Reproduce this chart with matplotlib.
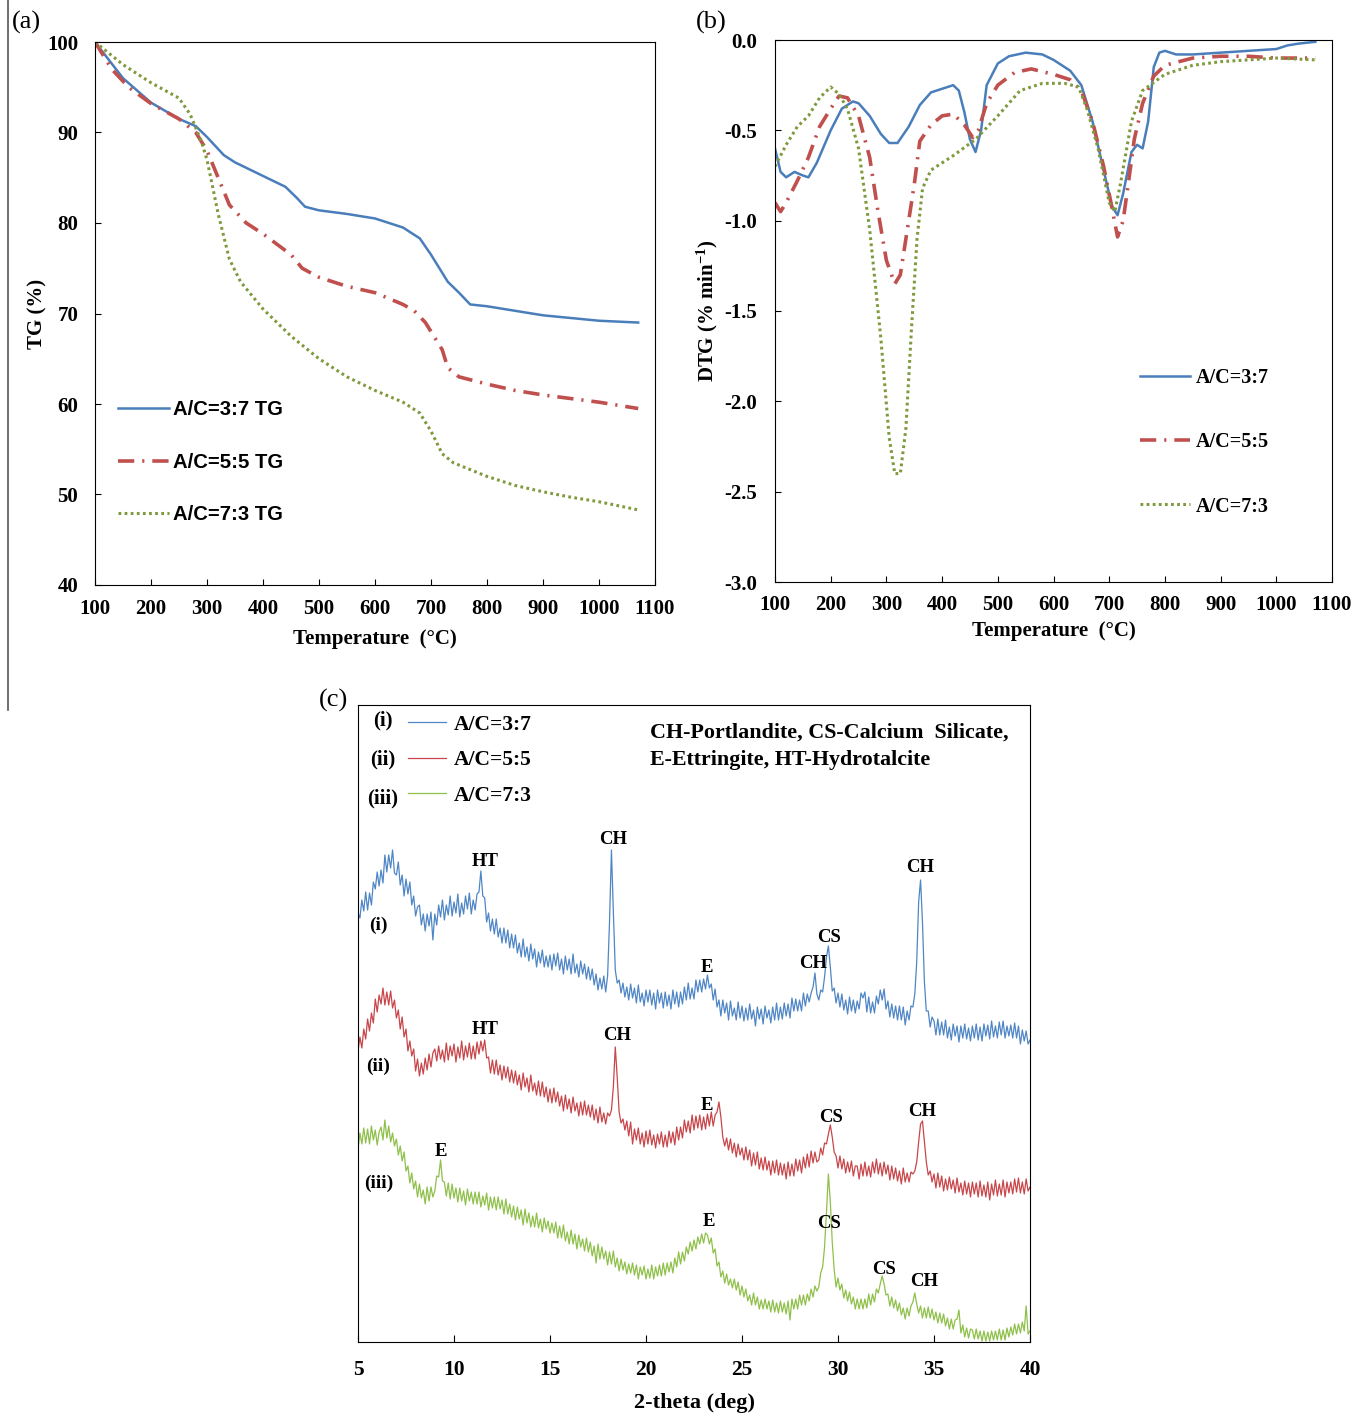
import numpy as np
import matplotlib
matplotlib.use("Agg")
import matplotlib.pyplot as plt
from matplotlib.lines import Line2D

plt.rcParams['font.family'] = ['Liberation Serif', 'DejaVu Serif']
plt.rcParams['font.weight'] = 'bold'
plt.rcParams['axes.labelweight'] = 'bold'
plt.rcParams['mathtext.fontset'] = 'custom'
plt.rcParams['mathtext.rm'] = 'Liberation Serif:bold'
plt.rcParams['mathtext.default'] = 'rm'

# ---- (a) TG data ----
tg_blue_t = [100, 150, 200, 250, 280, 300, 330, 350, 400, 440, 460, 475, 500, 550, 600, 650,
             680, 700, 720, 730, 750, 770, 800, 850, 900, 950, 1000, 1070]
tg_blue = [100, 96, 93.3, 91.5, 90.7, 89.5, 87.5, 86.7, 85.2, 84, 82.8, 81.8, 81.4, 81, 80.5, 79.5,
           78.3, 76.5, 74.5, 73.5, 72.3, 71, 70.8, 70.3, 69.8, 69.5, 69.2, 69.0]
tg_red_t = [100, 130, 160, 200, 250, 280, 300, 320, 340, 370, 400, 450, 470, 500, 550, 600, 650,
            670, 690, 700, 720, 730, 750, 800, 850, 900, 950, 1000, 1070]
tg_red = [100, 97, 95, 93.2, 91.5, 90, 88, 85, 82, 80, 78.8, 76.5, 75, 74, 73, 72.3, 71,
          70.3, 69, 68, 66, 64, 63, 62.2, 61.5, 61, 60.6, 60.2, 59.5]
tg_green_t = [100, 150, 200, 250, 270, 290, 300, 320, 340, 360, 400, 450, 500, 550, 600, 650,
              680, 700, 720, 740, 800, 850, 900, 950, 1000, 1070]
tg_green = [100, 97.5, 95.5, 93.8, 92, 89, 87, 81, 76, 73.5, 70.5, 67.5, 65, 63, 61.5, 60.2,
            59, 57, 54.5, 53.5, 52, 51, 50.3, 49.7, 49.2, 48.3]

# ---- (b) DTG data ----
dtg_blue_t = [100, 110, 120, 135, 150, 160, 175, 200, 220, 240, 250, 270, 290, 305, 320, 340, 360,
              380, 400, 420, 430, 440, 450, 460, 470, 480, 500, 520, 550, 580, 600, 630, 650, 670,
              690, 705, 715, 725, 740, 750, 760, 770, 780, 790, 800, 820, 850, 900, 950, 1000,
              1020, 1040, 1070]
dtg_blue = [-0.6, -0.73, -0.76, -0.73, -0.75, -0.76, -0.68, -0.5, -0.38, -0.34, -0.35, -0.42, -0.52,
            -0.57, -0.57, -0.48, -0.36, -0.29, -0.27, -0.25, -0.28, -0.4, -0.55, -0.62, -0.5, -0.25,
            -0.13, -0.09, -0.07, -0.08, -0.11, -0.17, -0.25, -0.45, -0.72, -0.92, -0.97, -0.85,
            -0.62, -0.58, -0.6, -0.45, -0.15, -0.07, -0.06, -0.08, -0.08, -0.07, -0.06, -0.05,
            -0.03, -0.02, -0.01]
dtg_red_t = [100, 110, 120, 140, 160, 180, 200, 215, 230, 250, 270, 285, 300, 315, 325, 340, 350,
             360, 380, 400, 420, 440, 455, 465, 480, 500, 530, 560, 600, 630, 650, 670, 690, 705,
             715, 725, 735, 745, 760, 780, 800, 850, 900, 950, 1000, 1070]
dtg_red = [-0.9, -0.95, -0.9, -0.78, -0.65, -0.48, -0.38, -0.31, -0.32, -0.42, -0.65, -0.95, -1.22,
           -1.35, -1.3, -1.0, -0.8, -0.56, -0.47, -0.42, -0.41, -0.47, -0.54, -0.5, -0.35, -0.25,
           -0.18, -0.16, -0.19, -0.22, -0.28, -0.45, -0.7, -0.93, -1.09, -1.0, -0.78, -0.55, -0.35,
           -0.2, -0.14, -0.1, -0.09, -0.09, -0.1, -0.1]
dtg_green_t = [100, 120, 140, 160, 180, 200, 215, 230, 250, 270, 290, 305, 315, 325, 335, 345, 355,
               365, 380, 420, 460, 500, 540, 580, 620, 645, 660, 680, 700, 710, 720, 740, 760, 800,
               850, 900, 950, 1000, 1070]
dtg_green = [-0.7, -0.58, -0.48, -0.42, -0.32, -0.26, -0.3, -0.38, -0.6, -1.05, -1.65, -2.2, -2.4,
             -2.4, -2.15, -1.6, -1.1, -0.82, -0.72, -0.64, -0.55, -0.42, -0.28, -0.24, -0.24, -0.26,
             -0.38, -0.6, -0.9, -0.95, -0.8, -0.45, -0.28, -0.19, -0.14, -0.12, -0.11, -0.1, -0.11]

# ---- (c) XRD data, 2-theta 5..40 step 0.1, stacked intensity (a.u.) ----
two_theta = np.linspace(5, 40, 351)
xrd_37 = [429, 424, 442, 431, 450, 432, 449, 437, 460, 453, 470, 456, 472, 459, 487, 470, 487, 474, 492, 469,
          467, 480, 457, 467, 446, 463, 448, 460, 437, 446, 426, 435, 437, 417, 428, 411, 428, 416, 430, 402,
          428, 417, 437, 425, 442, 422, 437, 427, 446, 426, 440, 429, 448, 425, 439, 428, 446, 433, 449, 428,
          442, 432, 448, 450, 471, 446, 444, 420, 429, 411, 423, 408, 423, 405, 414, 399, 414, 399, 412, 394,
          408, 394, 407, 389, 399, 385, 403, 385, 395, 381, 398, 383, 393, 375, 390, 379, 392, 375, 386, 375,
          387, 372, 388, 376, 389, 372, 383, 368, 386, 372, 383, 368, 388, 369, 378, 365, 381, 368, 378, 363,
          375, 362, 373, 357, 368, 352, 364, 353, 366, 350, 366, 420, 492, 430, 372, 359, 362, 349, 359, 345,
          355, 342, 358, 344, 354, 339, 357, 340, 349, 336, 352, 340, 352, 337, 349, 333, 352, 339, 349, 334,
          350, 336, 347, 333, 352, 338, 350, 335, 350, 338, 355, 342, 359, 343, 354, 343, 362, 350, 362, 350,
          363, 353, 367, 354, 358, 342, 353, 335, 342, 326, 342, 329, 339, 322, 341, 326, 334, 322, 340, 324,
          336, 321, 334, 322, 338, 323, 332, 316, 335, 323, 333, 318, 336, 324, 332, 319, 335, 322, 339, 322,
          335, 323, 339, 326, 338, 324, 344, 331, 343, 331, 342, 331, 349, 336, 348, 340, 349, 355, 369, 348,
          342, 352, 350, 365, 385, 396, 375, 351, 354, 339, 349, 335, 348, 332, 342, 328, 345, 331, 342, 329,
          341, 333, 349, 344, 350, 330, 345, 329, 340, 329, 346, 338, 352, 342, 353, 333, 341, 325, 338, 324,
          336, 322, 336, 322, 335, 317, 331, 322, 336, 335, 348, 380, 440, 462, 420, 360, 331, 331, 315, 325,
          321, 307, 323, 307, 320, 307, 322, 304, 315, 302, 318, 306, 316, 300, 316, 304, 318, 303, 314, 301,
          316, 304, 318, 302, 315, 301, 318, 306, 317, 303, 321, 305, 316, 304, 320, 307, 321, 304, 316, 306,
          317, 304, 319, 304, 316, 298, 312, 301, 311, 298, 302]
xrd_55 = [291, 305, 294, 313, 303, 323, 311, 329, 319, 343, 330, 347, 338, 354, 337, 350, 337, 351, 334, 342,
          324, 332, 313, 325, 305, 313, 291, 301, 286, 293, 271, 283, 266, 279, 268, 284, 272, 288, 275, 289,
          293, 281, 296, 283, 292, 280, 299, 282, 296, 286, 298, 280, 295, 284, 301, 282, 296, 285, 299, 283,
          296, 283, 300, 288, 301, 291, 302, 284, 285, 269, 282, 268, 282, 267, 277, 262, 276, 264, 275, 260,
          272, 259, 271, 257, 267, 252, 269, 255, 264, 250, 267, 251, 259, 247, 261, 246, 260, 245, 255, 240,
          253, 239, 254, 240, 250, 236, 246, 231, 247, 233, 243, 229, 245, 231, 239, 226, 240, 227, 241, 227,
          237, 225, 237, 222, 233, 219, 235, 220, 229, 218, 229, 226, 232, 255, 295, 265, 230, 219, 223, 212,
          221, 206, 220, 198, 213, 202, 214, 198, 209, 195, 211, 198, 212, 197, 207, 194, 208, 198, 210, 195,
          207, 195, 211, 199, 210, 197, 215, 202, 215, 204, 222, 210, 221, 209, 227, 212, 226, 214, 227, 212,
          225, 213, 228, 216, 230, 216, 227, 230, 240, 225, 205, 196, 204, 192, 203, 189, 199, 185, 198, 187,
          194, 182, 195, 182, 192, 176, 189, 177, 190, 173, 184, 172, 185, 172, 181, 167, 181, 169, 182, 167,
          179, 167, 178, 163, 180, 166, 178, 166, 183, 171, 182, 169, 185, 174, 188, 175, 191, 179, 190, 180,
          182, 194, 187, 199, 198, 208, 217, 205, 190, 186, 174, 186, 173, 183, 169, 180, 170, 181, 166, 176,
          176, 163, 178, 166, 180, 166, 176, 165, 180, 169, 183, 168, 179, 166, 180, 168, 177, 162, 176, 163,
          174, 161, 171, 158, 174, 160, 169, 160, 170, 168, 171, 180, 200, 218, 221, 200, 180, 167, 171, 160,
          168, 154, 169, 155, 166, 151, 163, 152, 165, 153, 162, 149, 164, 150, 159, 147, 161, 148, 159, 145,
          160, 148, 159, 145, 161, 146, 157, 145, 160, 142, 158, 147, 162, 146, 158, 147, 162, 145, 160, 149,
          160, 148, 163, 150, 164, 149, 160, 148, 163, 151, 155]
xrd_73 = [193, 209, 198, 214, 199, 213, 198, 216, 202, 212, 197, 210, 215, 202, 222, 204, 216, 200, 209, 196,
          203, 187, 196, 181, 190, 171, 176, 159, 169, 153, 161, 145, 158, 144, 152, 138, 155, 141, 155, 145,
          151, 166, 165, 182, 161, 160, 146, 159, 143, 158, 144, 154, 140, 154, 141, 151, 137, 153, 141, 150,
          138, 150, 138, 150, 135, 146, 137, 149, 132, 145, 134, 145, 132, 145, 133, 142, 128, 143, 128, 138,
          125, 136, 122, 135, 123, 132, 117, 133, 119, 129, 115, 126, 115, 129, 114, 123, 110, 124, 113, 121,
          109, 119, 109, 120, 104, 116, 104, 117, 101, 110, 98, 112, 98, 108, 93, 107, 95, 103, 91, 104,
          90, 100, 86, 96, 79, 98, 83, 95, 83, 91, 77, 90, 78, 91, 75, 84, 71, 83, 72, 80,
          68, 78, 69, 79, 67, 77, 63, 75, 67, 76, 63, 73, 64, 77, 63, 75, 66, 77, 66, 79,
          67, 79, 70, 80, 69, 84, 75, 90, 78, 90, 81, 95, 88, 100, 91, 102, 93, 105, 98, 108,
          99, 109, 107, 98, 104, 89, 93, 76, 80, 65, 71, 59, 68, 57, 63, 54, 63, 52, 60, 47,
          56, 45, 53, 41, 47, 37, 49, 37, 45, 33, 42, 33, 43, 33, 41, 30, 42, 30, 39, 29,
          41, 30, 39, 28, 41, 22, 43, 33, 43, 33, 47, 37, 47, 37, 48, 41, 53, 45, 56, 51,
          55, 69, 75, 95, 130, 168, 140, 100, 73, 55, 64, 52, 58, 44, 52, 41, 50, 38, 45, 33,
          43, 33, 43, 33, 43, 34, 48, 37, 48, 40, 53, 49, 58, 66, 58, 47, 48, 36, 45, 34,
          42, 31, 39, 27, 34, 23, 34, 26, 36, 40, 49, 38, 29, 36, 24, 34, 24, 35, 24, 33,
          22, 30, 19, 29, 19, 28, 16, 24, 13, 23, 13, 22, 23, 32, 9, 17, 5, 14, 4, 13,
          12, 3, 13, 3, 11, 1, 11, 1, 10, 1, 11, 2, 11, 2, 13, 2, 12, 2, 14, 5,
          15, 7, 18, 8, 18, 9, 20, 11, 36, 8, 11]

peaks_37 = [("HT", 11.6, 481), ("CH", 18.28, 503), ("E", 23.18, 374), ("CH", 28.7, 379),
            ("CS", 29.53, 404), ("CH", 34.27, 475)]
peaks_55 = [("HT", 11.6, 313), ("CH", 18.49, 306), ("E", 23.18, 236), ("CS", 29.64, 225),
            ("CH", 34.38, 230)]
peaks_73 = [("E", 9.32, 190), ("E", 23.28, 121), ("CS", 29.53, 118), ("CS", 32.4, 73),
            ("CH", 34.48, 61)]

c_blue, c_red, c_green = '#4a7ebb', '#c0504d', '#7f9a3c'
x_blue, x_red, x_green = '#4f86c6', '#c8464a', '#8fc04a'

fig = plt.figure(figsize=(13.72, 14.13), dpi=100)

# vertical border line at far left
fig.add_artist(Line2D([8 / 1372, 8 / 1372], [1, 1 - 710 / 1413], color='#555555', lw=1.2))

tick_font = 15

# ---------------- (a) ----------------
axa = fig.add_axes([95 / 1372, 1 - 585 / 1413, 560 / 1372, 543 / 1413])
axa.plot(tg_blue_t, tg_blue, color=c_blue, lw=1.8, label='A/C=3:7 TG')
axa.plot(tg_red_t, tg_red, color=c_red, lw=2.6, linestyle=(0, (4.5, 2.2, 0.6, 2.2)),
         dash_capstyle='butt', label='A/C=5:5 TG')
axa.plot(tg_green_t, tg_green, color=c_green, lw=2.2, linestyle=(0, (0.9, 1.1)), label='A/C=7:3 TG')
axa.set_xlim(100, 1100)
axa.set_ylim(40, 100)
axa.set_xticks(range(100, 1101, 100))
axa.set_yticks(range(40, 101, 10))
axa.tick_params(axis='x', direction='in', length=4, pad=10, labelsize=tick_font)
axa.tick_params(axis='y', direction='in', length=4, pad=12, labelsize=tick_font)
axa.set_xlabel('Temperature  (°C)', fontsize=15, labelpad=7)
axa.set_ylabel('TG (%)', fontsize=15, labelpad=0)
axa.legend(loc='upper left', bbox_to_anchor=(0.041, 0.34), frameon=False,
           prop={'family': 'Liberation Sans', 'weight': 'bold', 'size': 14.6},
           handlelength=2.5, handletextpad=0.2, labelspacing=1.65,
           borderpad=0, borderaxespad=0)

# ---------------- (b) ----------------
axb = fig.add_axes([775 / 1372, 1 - 582 / 1413, 557 / 1372, 542 / 1413])
axb.plot(dtg_blue_t, dtg_blue, color=c_blue, lw=1.8, label='A/C=3:7')
axb.plot(dtg_red_t, dtg_red, color=c_red, lw=2.6, linestyle=(0, (4.5, 2.2, 0.6, 2.2)),
         dash_capstyle='butt', label='A/C=5:5')
axb.plot(dtg_green_t, dtg_green, color=c_green, lw=2.2, linestyle=(0, (0.9, 1.1)), label='A/C=7:3')
axb.set_xlim(100, 1100)
axb.set_ylim(-3.0, 0.0)
axb.set_xticks(range(100, 1101, 100))
axb.set_yticks(np.arange(-3.0, 0.01, 0.5))
axb.set_yticklabels(['%.1f' % v for v in np.arange(-3.0, 0.01, 0.5)])
axb.tick_params(axis='x', direction='in', length=4, pad=9, labelsize=tick_font)
axb.tick_params(axis='y', direction='in', length=4, pad=13, labelsize=tick_font)
axb.set_xlabel('Temperature  (°C)', fontsize=15, labelpad=5)
axb.set_ylabel('DTG (% min$^{-1}$)', fontsize=15, labelpad=3)
axb.legend(loc='upper left', bbox_to_anchor=(0.655, 0.395), frameon=False,
           prop={'weight': 'bold', 'size': 14.5},
           handlelength=2.5, handletextpad=0.3, labelspacing=2.2,
           borderpad=0, borderaxespad=0)

# ---------------- (c) ----------------
axc = fig.add_axes([358 / 1372, 1 - 1342 / 1413, 672 / 1372, 637 / 1413])
axc.plot(two_theta, xrd_37, color=x_blue, lw=0.9, label='A/C=3:7')
axc.plot(two_theta, xrd_55, color=x_red, lw=0.9, label='A/C=5:5')
axc.plot(two_theta, xrd_73, color=x_green, lw=0.9, label='A/C=7:3')
axc.set_xlim(5, 40)
axc.set_ylim(0, 637)
axc.set_xticks(range(5, 41, 5))
axc.set_yticks([])
axc.tick_params(axis='x', direction='in', length=5, pad=13, labelsize=15.5)
axc.set_xlabel('2-theta (deg)', fontsize=16, labelpad=9)

for peaks in (peaks_37, peaks_55, peaks_73):
    for name, px, py in peaks:
        axc.text(px, py, name, ha='center', va='center', fontsize=13.5)

axc.text(6.04, 417, '(i)', ha='center', va='center', fontsize=14)
axc.text(6.04, 276, '(ii)', ha='center', va='center', fontsize=14)
axc.text(6.09, 159, '(iii)', ha='center', va='center', fontsize=14)

axc.legend(loc='upper left', bbox_to_anchor=(0.0744, 0.985), frameon=False,
           prop={'weight': 'bold', 'size': 15.5},
           handlelength=1.75, handletextpad=0.37, labelspacing=0.72,
           borderpad=0, borderaxespad=0)
for lbl, yy in (('(i)', 0.976), ('(ii)', 0.914), ('(iii)', 0.854)):
    axc.text(0.037, yy, lbl, transform=axc.transAxes, ha='center', va='center', fontsize=15)

axc.text(0.4345, 0.956, 'CH-Portlandite, CS-Calcium  Silicate,', transform=axc.transAxes,
         ha='left', va='center', fontsize=15.8)
axc.text(0.4345, 0.914, 'E-Ettringite, HT-Hydrotalcite', transform=axc.transAxes,
         ha='left', va='center', fontsize=15.8)

# panel labels
fig.text(26 / 1372, 1 - 22 / 1413, '(a)', ha='center', va='center', fontsize=19, weight='normal')
fig.text(711 / 1372, 1 - 22 / 1413, '(b)', ha='center', va='center', fontsize=19, weight='normal')
fig.text(334 / 1372, 1 - 700 / 1413, '(c)', ha='center', va='center', fontsize=19, weight='normal')

fig.savefig('out.png', dpi=100)
